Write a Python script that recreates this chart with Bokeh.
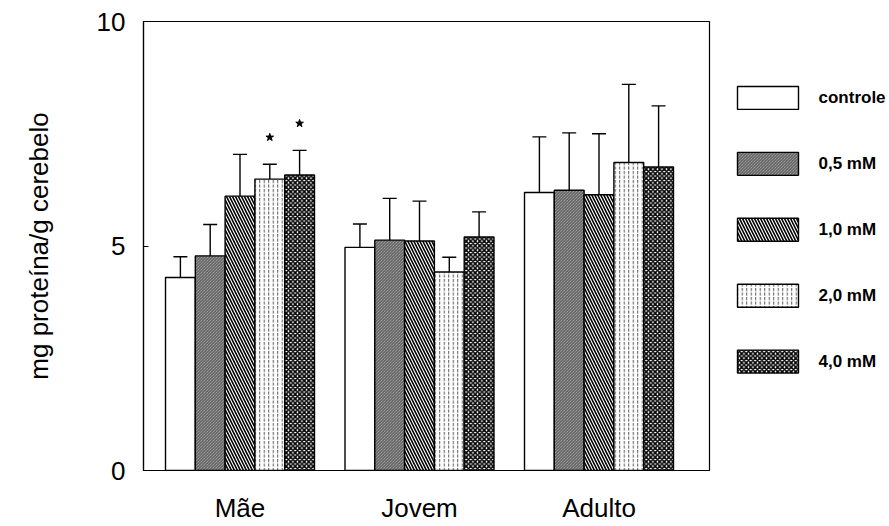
from bokeh.plotting import figure
from bokeh.layouts import row
from bokeh.models import ColumnDataSource, Range1d, FixedTicker, Whisker, TeeHead
from bokeh.core.properties import value
from bokeh.embed import file_html
from bokeh.resources import INLINE

# Groups and treatments
groups = ["Mãe", "Jovem", "Adulto"]
treatments = ["controle", "0,5 mM", "1,0 mM", "2,0 mM", "4,0 mM"]

# Mean protein content (mg proteína / g cerebelo), one list per treatment, per group
controle = [4.30, 4.97, 6.19]
mm_05 = [4.78, 5.13, 6.24]
mm_10 = [6.11, 5.11, 6.14]
mm_20 = [6.49, 4.42, 6.86]
mm_40 = [6.58, 5.20, 6.76]

# Standard deviations (upper error bars)
controle_err = [0.46, 0.52, 1.24]
mm_05_err = [0.70, 0.93, 1.28]
mm_10_err = [0.93, 0.89, 1.36]
mm_20_err = [0.33, 0.33, 1.74]
mm_40_err = [0.55, 0.56, 1.36]

# Significant differences (group index, treatment index)
significant = [(0, 3), (0, 4)]

y_ticks = [0, 5, 10]

means = [controle, mm_05, mm_10, mm_20, mm_40]
errs = [controle_err, mm_05_err, mm_10_err, mm_20_err, mm_40_err]

FONT = "Liberation Sans"
bar_w = 0.166
offsets = [-2 * bar_w, -bar_w, 0.0, bar_w, 2 * bar_w]

styles = [
    dict(fill_color="white"),
    dict(fill_color="#b4b4b4", hatch_pattern="left_diagonal_line", hatch_scale=3,
         hatch_weight=0.8, hatch_color="#3a3a3a"),
    dict(fill_color="white", hatch_pattern="left_diagonal_line", hatch_scale=6,
         hatch_weight=1.6, hatch_color="black"),
    dict(fill_color="white", hatch_pattern="vertical_dash", hatch_scale=4.5,
         hatch_weight=1.0, hatch_color="#555555"),
    dict(fill_color="white", hatch_pattern="diagonal_cross", hatch_scale=4.5,
         hatch_weight=1.6, hatch_color="black"),
]

# Frame geometry shared by the chart and the legend panel
TOP, BOTTOM, LEFT, RIGHT_W = 21, 55.5, 143, 712
H = 526

# ---- main bar chart ----
p = figure(width=RIGHT_W, height=H, output_backend="svg", toolbar_location=None,
           x_range=Range1d(0.4624, 3.6156), y_range=Range1d(0, 10),
           min_border_left=LEFT, min_border_right=3, min_border_top=TOP,
           min_border_bottom=56)
p.background_fill_color = "white"
p.border_fill_color = "white"
p.outline_line_color = "black"
p.outline_line_width = 1.2
p.xgrid.visible = False
p.ygrid.visible = False

for i, name in enumerate(treatments):
    xs = [k + 1 + offsets[i] for k in range(len(groups))]
    src = ColumnDataSource(dict(x=xs, top=means[i],
                                upper=[m + e for m, e in zip(means[i], errs[i])]))
    w = Whisker(base="x", lower="top", upper="upper", source=src,
                line_color="black", line_width=1.4,
                upper_head=TeeHead(size=14, line_color="black", line_width=1.4),
                lower_head=None, level="underlay")
    p.add_layout(w)
    p.vbar(x="x", top="top", bottom=0, width=bar_w, source=src,
           line_color="black", line_width=1.4, **styles[i])

# Asterisks above the significant bars
star_x = [g + 1 + offsets[t] for g, t in significant]
star_y = [means[t][g] + errs[t][g] + 0.6 for g, t in significant]
p.scatter(star_x, star_y, marker="star", size=8, fill_color="black", line_color="black")

# Axes
p.xaxis.ticker = FixedTicker(ticks=[1, 2, 3])
p.xaxis.major_label_overrides = {1: groups[0], 2: groups[1], 3: groups[2]}
p.xaxis.major_tick_in = 0
p.xaxis.major_tick_out = 0
p.xaxis.minor_tick_line_color = None
p.xaxis.major_label_standoff = 22
p.xaxis.major_label_text_font = FONT
p.xaxis.major_label_text_font_size = "26px"
p.xaxis.major_label_text_color = "black"
p.xaxis.axis_line_color = "black"
p.xaxis.axis_line_width = 1.2

p.yaxis.ticker = FixedTicker(ticks=y_ticks)
p.yaxis.major_tick_in = 5
p.yaxis.major_tick_out = 0
p.yaxis.major_tick_line_color = "black"
p.yaxis.minor_tick_line_color = None
p.yaxis.major_label_standoff = 18
p.yaxis.major_label_text_font = FONT
p.yaxis.major_label_text_font_size = "26px"
p.yaxis.major_label_text_color = "black"
p.yaxis.axis_line_color = "black"
p.yaxis.axis_line_width = 1.2
p.yaxis.axis_label = "mg proteína/g cerebelo"
p.yaxis.axis_label_text_font = FONT
p.yaxis.axis_label_text_font_size = "26px"
p.yaxis.axis_label_text_font_style = "normal"
p.yaxis.axis_label_text_color = "black"
p.yaxis.axis_label_standoff = 40

# ---- legend panel: its frame lines up with the chart frame, ranges in canvas pixels ----
leg = figure(width=889 - RIGHT_W, height=H, output_backend="svg", toolbar_location=None,
             x_range=Range1d(RIGHT_W, 889), y_range=Range1d(H - BOTTOM, TOP),
             min_border=0, x_axis_location=None, y_axis_location=None)
leg.outline_line_color = None
leg.background_fill_color = "white"
leg.border_fill_color = "white"
leg.xgrid.visible = False
leg.ygrid.visible = False

sw_left, sw_w, sw_h = 737, 61, 23
sw_top0, sw_pitch = 86, 66
for i, name in enumerate(treatments):
    cy = sw_top0 + i * sw_pitch + sw_h / 2
    leg.rect(x=[sw_left + sw_w / 2], y=[cy], width=sw_w, height=sw_h,
             line_color="black", line_width=1.4, **styles[i])
    leg.text(x=[sw_left + sw_w + 20], y=[cy], text=[name], text_font=value(FONT),
             text_font_size="17px", text_font_style="bold", text_color="black",
             text_baseline="middle", text_align="left")

layout = row(p, leg, spacing=0)
open("out.html", "w").write(file_html(layout, INLINE))
